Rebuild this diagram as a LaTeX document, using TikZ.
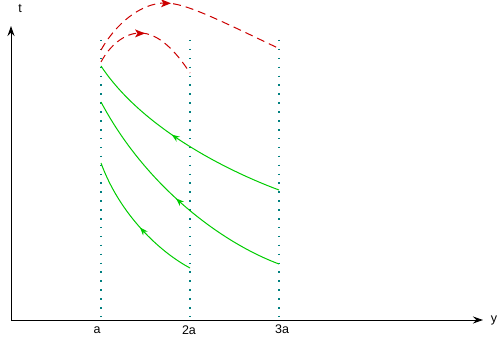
\documentclass[tikz,border=0pt]{standalone}
\usepackage{fontspec}
\setmainfont{Liberation Sans}
\usetikzlibrary{arrows.meta,decorations.markings}
\definecolor{grn}{RGB}{0,204,0}
\definecolor{rd}{RGB}{204,0,0}
\definecolor{tl}{RGB}{0,128,128}
\tikzset{
  axis/.style={line width=1pt,-{Stealth[length=10pt,width=7pt]}},
  guide/.style={tl,line width=1.5pt,dash pattern=on 1.5pt off 7.4pt},
  flow/.style={grn,line width=1pt},
  loop/.style={rd,line width=1pt,dash pattern=on 8pt off 5pt},
  midarrow/.style={postaction={decorate},decoration={markings,mark=at position #1 with {\arrow{Stealth[length=8pt,width=6pt]}}}},
  lbl/.style={font=\fontsize{12.5}{15}\selectfont,inner sep=0pt}
}
\begin{document}
\begin{tikzpicture}[x=1pt,y=-1pt]
\useasboundingbox (0,0) rectangle (498,337);
% axes
\coordinate (O) at (11,320);
\coordinate (T) at (11,26);
\coordinate (Y) at (483,320);
\draw[axis] (O) -- (T);
\draw[axis] (O) -- (Y);
\node[lbl] (tl) at (20,9) {t};
\node[lbl] (yl) at (494,320) {y};
% guides
\coordinate (g1t) at (101,40); \coordinate (g1b) at (101,320);
\coordinate (g2t) at (190,40); \coordinate (g2b) at (190,320);
\coordinate (g3t) at (279,40); \coordinate (g3b) at (279,320);
\draw[guide] (g1t) -- (g1b);
\draw[guide] (g2t) -- (g2b);
\draw[guide] (g3t) -- (g3b);
\node[lbl] (la) at (97,330.5) {a};
\node[lbl] (l2a) at (189,330.5) {2a};
\node[lbl] (l3a) at (282,329) {3a};
% green curves
\coordinate (c1s) at (279,190); \coordinate (c1e) at (101,66);
\coordinate (c2s) at (279,264); \coordinate (c2e) at (101,102);
\coordinate (c3s) at (190,268); \coordinate (c3e) at (101,163);
\draw[flow,midarrow=0.55] (c1s) .. controls (220,168) and (140,125) .. (c1e);
\draw[flow,midarrow=0.5] (c2s) .. controls (220,242) and (145,185) .. (c2e);
\draw[flow,midarrow=0.46] (c3s) .. controls (160,252) and (120,215) .. (c3e);
% red curves
\coordinate (r1s) at (101,50); \coordinate (r1p) at (165,3); \coordinate (r1e) at (280,49);
\coordinate (r2s) at (101,62); \coordinate (r2p) at (140,33); \coordinate (r2e) at (190,73);
\draw[loop] (r1s) .. controls (115,25) and (140,3) .. (r1p) .. controls (185,3) and (215,18) .. (r1e);
\draw[loop] (r2s) .. controls (110,45) and (125,33) .. (r2p) .. controls (158,33) and (175,50) .. (r2e);
\fill[rd] (r1p) ++(6,0.3) -- ++(-10,-4) -- ++(2.5,4) -- ++(-2.5,4) -- cycle;
\fill[rd] (r2p) ++(5,0.4) -- ++(-10,-4) -- ++(2.5,4) -- ++(-2.5,4) -- cycle;
\end{tikzpicture}
\end{document}
